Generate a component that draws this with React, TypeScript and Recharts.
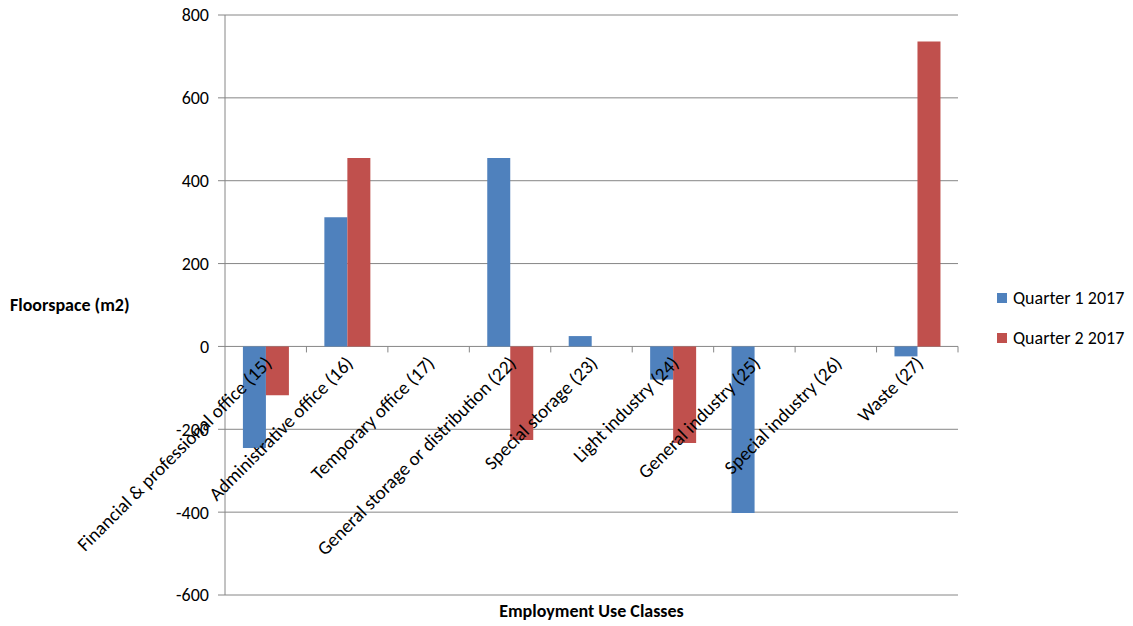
import React from 'react';
import { BarChart, Bar, XAxis, YAxis, CartesianGrid } from 'recharts';

const categories = [
  'Financial & professional office (15)',
  'Administrative office (16)',
  'Temporary office (17)',
  'General storage or distribution (22)',
  'Special storage (23)',
  'Light industry (24)',
  'General industry (25)',
  'Special industry (26)',
  'Waste (27)',
];
const quarter1 = [-245, 312, 0, 455, 25, -80, -402, 0, -24];
const quarter2 = [-118, 455, 0, -226, 0, -233, 0, 0, 736];
const yTicks = [-600, -400, -200, 0, 200, 400, 600, 800];

const seriesNames = ['Quarter 1 2017', 'Quarter 2 2017'];
const colors = ['#4F81BD', '#C0504D'];

const data = categories.map((name, i) => ({ name, q1: quarter1[i], q2: quarter2[i] }));

const FONT = 'Carlito, Calibri, Lato, sans-serif';
const W = 1133;
const H = 626;
const margin = { top: 15, right: 175, bottom: 30, left: 0 };
const yAxisWidth = 225;
const plotTop = margin.top;
const plotHeight = H - margin.top - margin.bottom - 1;
const plotWidth = W - margin.right - yAxisWidth;
const yMin = yTicks[0];
const yMax = yTicks[yTicks.length - 1];
// category labels sit on the zero line, like an axis crossing at 0
const zeroY = plotTop + (plotHeight * yMax) / (yMax - yMin);
const band = plotWidth / categories.length;

const renderCategoryTick = ({ x, payload }: any) => {
  const tx = x + 7;
  const ty = zeroY + 18;
  return (
    <g key={payload.value}>
      <line x1={x + band / 2} x2={x + band / 2} y1={zeroY} y2={zeroY + 6} stroke="#868686" />
      <text
        x={tx}
        y={ty}
        textAnchor="end"
        transform={`rotate(-45 ${tx} ${ty})`}
        fontSize={19}
        fontFamily={FONT}
        fill="#000"
      >
        {payload.value}
      </text>
    </g>
  );
};

export default function App() {
  return (
    <div style={{ position: 'absolute', left: 0, top: 0, width: W, height: H, background: '#fff', fontFamily: FONT }}>
      <BarChart width={W} height={H} data={data} margin={margin} barCategoryGap="22%" barGap={0}>
        <CartesianGrid horizontal vertical={false} stroke="#868686" />
        <XAxis
          dataKey="name"
          height={1}
          axisLine={false}
          tickLine={false}
          interval={0}
          tick={renderCategoryTick}
        />
        <YAxis
          width={yAxisWidth}
          domain={[yMin, yMax]}
          ticks={yTicks}
          interval={0}
          stroke="#868686"
          tickSize={7}
          tickMargin={9}
          tick={{ fill: '#000', fontSize: 18, fontFamily: FONT }}
        />
        <Bar dataKey="q1" name={seriesNames[0]} fill={colors[0]} isAnimationActive={false} />
        <Bar dataKey="q2" name={seriesNames[1]} fill={colors[1]} isAnimationActive={false} />
      </BarChart>

      <div style={{ position: 'absolute', left: 10, top: 294, fontSize: 18, fontWeight: 700 }}>Floorspace (m2)</div>
      <div
        style={{
          position: 'absolute',
          left: yAxisWidth,
          width: plotWidth,
          top: 600,
          textAlign: 'center',
          fontSize: 18,
          fontWeight: 700,
        }}
      >
        Employment Use Classes
      </div>

      {seriesNames.map((name, i) => (
        <div
          key={name}
          style={{ position: 'absolute', left: 997, top: 287 + i * 40, display: 'flex', alignItems: 'center', fontSize: 18 }}
        >
          <span style={{ width: 10, height: 10, background: colors[i], display: 'inline-block', marginRight: 6 }} />
          <span>{name}</span>
        </div>
      ))}
    </div>
  );
}
